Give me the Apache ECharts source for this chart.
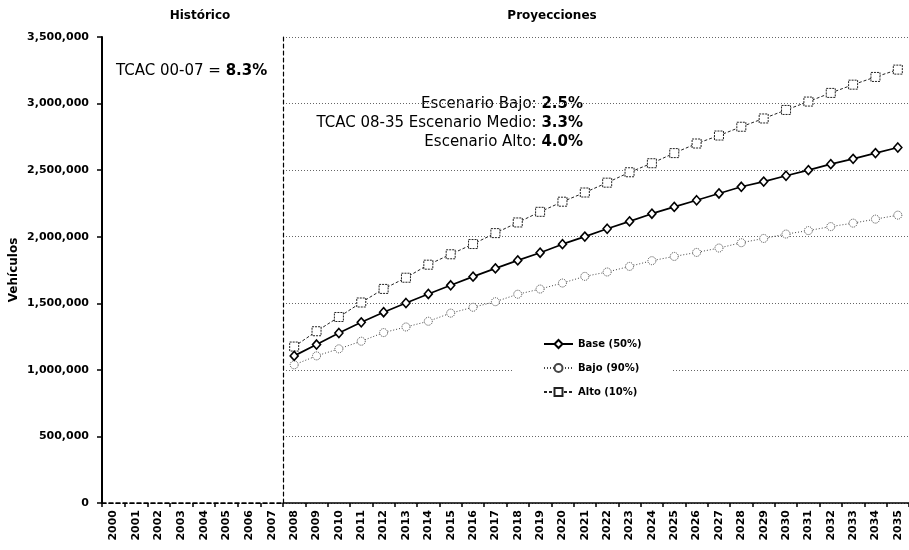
<!DOCTYPE html>
<html>
<head>
<meta charset="utf-8">
<script src="https://cdn.jsdelivr.net/npm/echarts@6/dist/echarts.min.js"></script>
<style>
html,body{margin:0;padding:0;background:#fff;}
#c{width:909px;height:550px;}
</style>
</head>
<body>
<div id="c"></div>
<script>
// ---- data ----
const histYears = ['2000','2001','2002','2003','2004','2005','2006','2007'];
const projYears = ['2008','2009','2010','2011','2012','2013','2014','2015','2016','2017','2018','2019','2020','2021','2022','2023','2024','2025','2026','2027','2028','2029','2030','2031','2032','2033','2034','2035'];
const baseVals = [1105000,1190000,1277000,1357000,1433000,1502000,1570000,1635000,1700000,1762000,1822000,1880000,1944000,2001000,2060000,2115000,2173000,2224000,2274000,2325000,2375000,2414000,2458000,2500000,2545000,2585000,2628000,2670000];
const bajoVals = [1038000,1105000,1158000,1215000,1280000,1322000,1365000,1426000,1470000,1512000,1568000,1607000,1652000,1702000,1735000,1777000,1820000,1852000,1882000,1915000,1955000,1987000,2020000,2046000,2076000,2102000,2132000,2162000];
const altoVals = [1175000,1290000,1397000,1506000,1608000,1692000,1790000,1868000,1945000,2027000,2107000,2187000,2263000,2332000,2406000,2484000,2552000,2628000,2700000,2760000,2826000,2888000,2952000,3015000,3080000,3142000,3200000,3255000];
const seriesNames = ['Base (50%)','Bajo (90%)','Alto (10%)'];
const yMin = 0, yMax = 3500000, yStep = 500000;
const sectionTitles = ['Histórico','Proyecciones'];
const yName = 'Vehículos';

const FONT = 'DejaVu Sans';
const fmt = v => String(v).replace(/\B(?=(\d{3})+(?!\d))/g, ',');

const xLabel = {rotate:90, interval:0, fontFamily:FONT, fontWeight:'bold', fontSize:11, color:'#000', margin:7};

const chart = echarts.init(document.getElementById('c'), null, {renderer:'canvas'});
chart.setOption({
  animation:false,
  backgroundColor:'#fff',
  grid:[
    {left:102, top:37, width:181, height:466},
    {left:283, top:37, width:634, height:466}
  ],
  xAxis:[
    {type:'category', gridIndex:0, data:histYears, position:'bottom', boundaryGap:true,
     axisLine:{show:true, lineStyle:{color:'#000', width:1.5, type:[4,3]}},
     axisTick:{show:true, interval:0, length:4, lineStyle:{color:'#000', width:1.5}},
     axisLabel:xLabel, splitLine:{show:false}},
    {type:'category', gridIndex:1, data:projYears, position:'bottom', boundaryGap:true,
     axisLine:{show:true, lineStyle:{color:'#000', width:1.5}},
     axisTick:{show:true, interval:0, length:4, lineStyle:{color:'#000', width:1.5}},
     axisLabel:xLabel, splitLine:{show:false}},
    {type:'category', gridIndex:0, data:histYears, position:'top',
     axisLine:{show:true, lineStyle:{color:'#000', width:1.2, type:[4,3]}},
     axisTick:{show:false}, axisLabel:{show:false}, splitLine:{show:false}}
  ],
  yAxis:[
    {type:'value', gridIndex:0, min:yMin, max:yMax, interval:yStep, position:'left',
     name:yName, nameLocation:'middle', nameRotate:90, nameGap:82,
     nameTextStyle:{fontFamily:FONT, fontWeight:'bold', fontSize:12, color:'#000'},
     axisLine:{show:true, lineStyle:{color:'#000', width:2}},
     axisTick:{show:true, length:5, lineStyle:{color:'#000', width:1.5}},
     axisLabel:{fontFamily:FONT, fontWeight:'bold', fontSize:11, color:'#000', margin:13, formatter:fmt},
     splitLine:{show:false}},
    {type:'value', gridIndex:1, min:yMin, max:yMax, interval:yStep,
     axisLine:{show:false}, axisTick:{show:false}, axisLabel:{show:false},
     splitLine:{show:true, lineStyle:{color:'#666', width:1, type:[1,2]}}},
    {type:'value', gridIndex:0, min:yMin, max:yMax, interval:yStep, position:'right',
     axisLine:{show:true, lineStyle:{color:'#000', width:1.2, type:[4,3]}},
     axisTick:{show:false}, axisLabel:{show:false}, splitLine:{show:false}}
  ],
  legend:{
    orient:'vertical', left:513, top:331,
    padding:[8,30,8,30], backgroundColor:'#fff',
    itemWidth:29, itemHeight:10, itemGap:14,
    textStyle:{fontFamily:FONT, fontWeight:'bold', fontSize:10, color:'#000'},
    data:seriesNames
  },
  series:[
    {name:seriesNames[0], type:'line', xAxisIndex:1, yAxisIndex:1, data:baseVals,
     symbol:'diamond', symbolSize:[8,9], showSymbol:true, z:4,
     lineStyle:{color:'#000', width:1.7},
     itemStyle:{color:'#fff', borderColor:'#000', borderWidth:1.6}},
    {name:seriesNames[1], type:'line', xAxisIndex:1, yAxisIndex:1, data:bajoVals,
     symbol:'circle', symbolSize:8, showSymbol:true, z:3,
     lineStyle:{color:'#444', width:1, type:[1,2]},
     itemStyle:{color:'#fff', borderColor:'#444', borderWidth:1, borderType:[1,1]}},
    {name:seriesNames[2], type:'line', xAxisIndex:1, yAxisIndex:1, data:altoVals,
     symbol:'rect', symbolSize:9, showSymbol:true, z:3,
     lineStyle:{color:'#222', width:1, type:[3,2]},
     itemStyle:{color:'#fff', borderColor:'#222', borderWidth:1, borderType:[2,1]}}
  ],
  graphic:[
    {type:'text', x:200, y:16, style:{text:sectionTitles[0], font:'bold 12px "DejaVu Sans"', fill:'#000', align:'center', verticalAlign:'middle'}},
    {type:'text', x:552, y:16, style:{text:sectionTitles[1], font:'bold 12px "DejaVu Sans"', fill:'#000', align:'center', verticalAlign:'middle'}},
    {type:'text', x:116, y:71, style:{text:'{n|TCAC 00-07 = }{b|8.3%}', align:'left', verticalAlign:'middle',
      rich:{n:{fontFamily:FONT, fontSize:15, fill:'#000'}, b:{fontFamily:FONT, fontSize:15, fontWeight:'bold', fill:'#000'}}}},
    {type:'text', x:583, y:104, style:{text:'{n|Escenario Bajo: }{b|2.5%}', align:'right', verticalAlign:'middle',
      rich:{n:{fontFamily:FONT, fontSize:15, fill:'#000'}, b:{fontFamily:FONT, fontSize:15, fontWeight:'bold', fill:'#000'}}}},
    {type:'text', x:583, y:123, style:{text:'{n|TCAC 08-35 Escenario Medio: }{b|3.3%}', align:'right', verticalAlign:'middle',
      rich:{n:{fontFamily:FONT, fontSize:15, fill:'#000'}, b:{fontFamily:FONT, fontSize:15, fontWeight:'bold', fill:'#000'}}}},
    {type:'text', x:583, y:142, style:{text:'{n|Escenario Alto: }{b|4.0%}', align:'right', verticalAlign:'middle',
      rich:{n:{fontFamily:FONT, fontSize:15, fill:'#000'}, b:{fontFamily:FONT, fontSize:15, fontWeight:'bold', fill:'#000'}}}}
  ]
});
</script>
</body>
</html>
